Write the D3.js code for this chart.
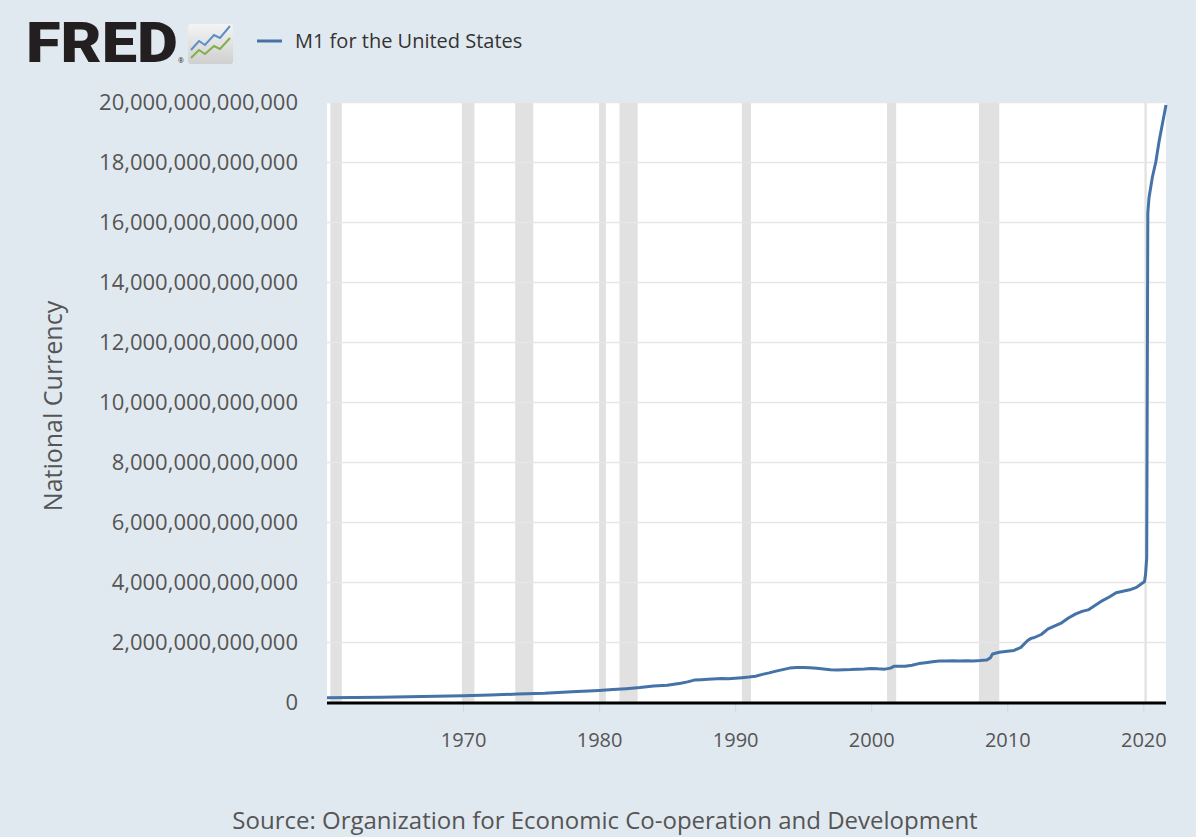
<!DOCTYPE html>
<html>
<head>
<meta charset="utf-8">
<script src="https://cdn.jsdelivr.net/npm/d3@7"></script>
<style>
  body { margin: 0; background: #e1e9f0; }
  svg { display: block; font-family: "Open Sans", sans-serif; }
</style>
</head>
<body>
<svg id="chart"></svg>
<script>
// M1 for the United States, trillions of national currency
var dates = ["1960-01","1962-01","1964-01","1966-01","1968-01","1970-01","1972-01","1974-01","1976-01","1978-01",
  "1980-01","1981-01","1982-01","1983-01","1984-01","1985-01","1986-01","1986-07","1987-01","1987-07",
  "1988-01","1989-01","1989-07","1990-01","1990-07","1991-01","1991-07","1992-01","1992-07","1993-01",
  "1993-07","1994-01","1994-07","1995-01","1995-07","1996-01","1996-07","1997-01","1997-07","1998-01",
  "1998-07","1999-01","1999-07","2000-01","2000-07","2001-01","2001-06","2001-09","2002-01","2002-07",
  "2003-01","2003-07","2004-01","2004-07","2005-01","2005-07","2006-01","2006-07","2007-01","2007-07",
  "2008-01","2008-07","2008-10","2008-12","2009-06","2010-01","2010-07","2011-01","2011-07","2011-10",
  "2012-01","2012-07","2013-01","2013-07","2014-01","2014-07","2015-01","2015-07","2016-01","2016-07",
  "2017-01","2017-07","2018-01","2018-07","2019-01","2019-07","2019-12","2020-02","2020-03","2020-04",
  "2020-05","2020-06","2020-09","2020-12","2021-03","2021-06","2021-09"];
var values = [0.140,0.146,0.157,0.172,0.188,0.206,0.230,0.265,0.292,0.340,
  0.385,0.415,0.445,0.480,0.530,0.560,0.625,0.670,0.730,0.745,
  0.755,0.780,0.775,0.795,0.810,0.830,0.860,0.920,0.970,1.030,
  1.080,1.130,1.150,1.150,1.140,1.125,1.100,1.075,1.070,1.075,
  1.080,1.095,1.100,1.120,1.105,1.095,1.130,1.190,1.190,1.195,
  1.225,1.280,1.310,1.340,1.365,1.370,1.375,1.370,1.375,1.370,
  1.380,1.400,1.470,1.600,1.660,1.690,1.720,1.820,2.050,2.120,
  2.150,2.250,2.440,2.540,2.640,2.800,2.930,3.020,3.080,3.230,
  3.380,3.500,3.640,3.690,3.740,3.820,3.960,4.010,4.250,4.800,
  16.30,16.80,17.50,18.00,18.70,19.30,19.90];

var recessionStart = ["1960-04","1969-12","1973-11","1980-01","1981-07","1990-07","2001-03","2007-12","2020-02"];
var recessionEnd   = ["1961-02","1970-11","1975-03","1980-07","1982-11","1991-03","2001-11","2009-06","2020-04"];

var yTicks = [0, 2e12, 4e12, 6e12, 8e12, 10e12, 12e12, 14e12, 16e12, 18e12, 20e12];
var xTickYears = [1970, 1980, 1990, 2000, 2010, 2020];

var W = 1196, H = 837;
var margin = {top: 102, right: 30, bottom: 135, left: 327};
var width = W - margin.left - margin.right,
    height = H - margin.top - margin.bottom;

var parse = d3.timeParse("%Y-%m");
var data = dates.map((d, i) => ({date: parse(d), value: values[i] * 1e12}));

var svg = d3.select("#chart").attr("width", W).attr("height", H);

svg.append("rect").attr("width", W).attr("height", H).attr("fill", "#e1e9f0");

// FRED logo
var logo = svg.append("g");
logo.append("text")
    .attr("x", 26).attr("y", 62)
    .attr("textLength", 152).attr("lengthAdjust", "spacingAndGlyphs")
    .style("font-family", "Roboto, 'Liberation Sans', sans-serif")
    .style("font-weight", 900).style("font-size", "56px")
    .attr("fill", "#231f20")
    .text("FRED");
logo.append("text")
    .attr("x", 178).attr("y", 63)
    .style("font-size", "7px").attr("fill", "#231f20")
    .text("®");
var grad = svg.append("defs").append("linearGradient")
    .attr("id", "lg").attr("x1", 0).attr("y1", 0).attr("x2", 0).attr("y2", 1);
grad.append("stop").attr("offset", "0%").attr("stop-color", "#f4f4f4");
grad.append("stop").attr("offset", "100%").attr("stop-color", "#cfcfcf");
logo.append("rect").attr("x", 188).attr("y", 24).attr("width", 45).attr("height", 40)
    .attr("rx", 3).attr("fill", "url(#lg)");
logo.append("path").attr("d", "M191,50 L199,41 L205,45 L214,35 L220,38 L230,26")
    .attr("fill", "none").attr("stroke", "#5a8fc8").attr("stroke-width", 2);
logo.append("path").attr("d", "M191,58 L199,50 L205,54 L214,46 L220,49 L230,38")
    .attr("fill", "none").attr("stroke", "#7fb04a").attr("stroke-width", 2);

// legend
svg.append("line")
    .attr("x1", 257).attr("x2", 282).attr("y1", 41).attr("y2", 41)
    .attr("stroke", "#4572a7").attr("stroke-width", 3);
svg.append("text")
    .attr("x", 295).attr("y", 48)
    .style("font-size", "20px").attr("fill", "#333")
    .text("M1 for the United States");

var g = svg.append("g")
    .attr("transform", "translate(" + margin.left + "," + margin.top + ")");

var x = d3.scaleTime()
    .domain(d3.extent(data, d => d.date))
    .range([0, width]);
var y = d3.scaleLinear()
    .domain([0, 20e12])
    .range([height, 0]);

g.append("rect").attr("width", width).attr("height", height).attr("fill", "#fff");

// recession shading
g.selectAll(".rec")
  .data(recessionStart.map((s, i) => [parse(s), parse(recessionEnd[i])]))
  .enter().append("rect")
    .attr("class", "rec")
    .attr("x", d => x(d[0]))
    .attr("width", d => Math.max(2, x(d[1]) - x(d[0])))
    .attr("y", 0).attr("height", height)
    .attr("fill", "#e1e1e1");

// y grid + labels
g.append("g")
    .call(d3.axisLeft(y).tickValues(yTicks).tickSize(-width).tickFormat(d3.format(",.0f")))
    .call(a => a.select(".domain").remove())
    .call(a => a.selectAll("line").attr("stroke", "#e6e6e6").attr("stroke-width", 1.5))
    .call(a => a.selectAll("text").attr("x", -29).attr("dy", "0.35em")
        .attr("fill", "#555").style("font-size", "22px").style("font-family", "Open Sans"));

// x axis
g.append("g")
    .attr("transform", "translate(0," + height + ")")
    .call(d3.axisBottom(x).tickValues(xTickYears.map(yr => new Date(yr, 0, 1)))
        .tickFormat(d3.timeFormat("%Y")).tickSize(10).tickPadding(21))
    .call(a => a.select(".domain").remove())
    .call(a => a.selectAll("line").attr("stroke", "#ccd6eb"))
    .call(a => a.selectAll("text").attr("fill", "#555").style("font-size", "20px")
        .style("font-family", "Open Sans"));

g.append("line")
    .attr("x1", 0).attr("x2", width)
    .attr("y1", height + 1).attr("y2", height + 1)
    .attr("stroke", "#000").attr("stroke-width", 3);

var line = d3.line()
    .x(d => x(d.date))
    .y(d => y(d.value));

g.append("path")
    .datum(data)
    .attr("fill", "none")
    .attr("stroke", "#4572a7")
    .attr("stroke-width", 3)
    .attr("stroke-linejoin", "round")
    .attr("d", line);

// y title
svg.append("text")
    .attr("transform", "translate(62,406) rotate(-90)")
    .attr("text-anchor", "middle")
    .style("font-size", "25px").attr("fill", "#555")
    .text("National Currency");

// source
svg.append("text")
    .attr("x", 605).attr("y", 829)
    .attr("text-anchor", "middle")
    .style("font-size", "24px").attr("fill", "#555")
    .text("Source: Organization for Economic Co-operation and Development");
</script>
</body>
</html>
